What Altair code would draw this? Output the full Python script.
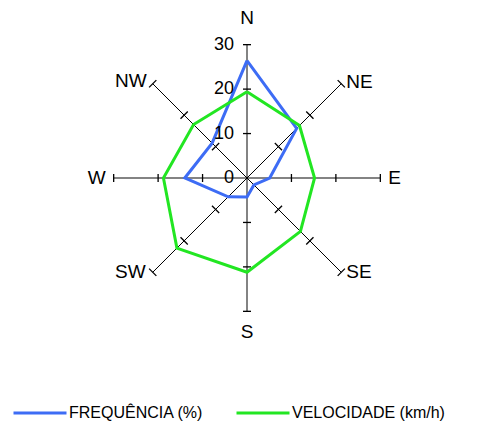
import altair as alt
import numpy as np
import pandas as pd

# ---- data ----
directions = ["N", "NE", "E", "SE", "S", "SW", "W", "NW"]
frequencia = [26.4, 15.8, 5.1, 2.2, 4.3, 6.0, 14.0, 11.1]
velocidade = [19.4, 16.7, 15.2, 17.0, 21.2, 22.3, 18.8, 17.0]
series_names = ["FREQUÊNCIA (%)", "VELOCIDADE (km/h)"]
series_colors = ["#3d6cf5", "#22e622"]
ring_values = [0, 10, 20, 30]
ring_labels = ["0", "10", "20", "30"]
tick_values = [10, 20, 30]
r_max = 30

# ---- derived tables ----
ang = np.deg2rad(90 - 45 * np.arange(len(directions)))
cosv, sinv = np.cos(ang), np.sin(ang)

rows = []
for s, vals in zip(series_names, [frequencia, velocidade]):
    for k in range(len(directions) + 1):
        i = k % len(directions)
        rows.append({"series": s, "order": k, "x": vals[i] * cosv[i], "y": vals[i] * sinv[i]})
lines_df = pd.DataFrame(rows)

spokes_df = pd.DataFrame({
    "dir": directions,
    "kind": ["card" if i % 2 == 0 else "diag" for i in range(len(directions))],
    "x": 0.0, "y": 0.0,
    "x2": r_max * cosv, "y2": r_max * sinv,
})

trows = []
for i, d in enumerate(directions):
    h = 0.9 if i % 2 == 0 else 1.15
    for r in tick_values:
        cx, cy = r * cosv[i], r * sinv[i]
        px, py = -sinv[i], cosv[i]
        trows.append({"x": cx - h * px, "y": cy - h * py, "x2": cx + h * px, "y2": cy + h * py})
ticks_df = pd.DataFrame(trows)

rings_df = pd.DataFrame({"x": 0.0, "y": ring_values, "label": ring_labels})
dirs_df = pd.DataFrame({"dir": directions, "x": r_max * cosv, "y": r_max * sinv})

# ---- scales ----
W, H = 464, 395
cx_px, cy_px = 239, 169
k = 133.33 / 30.0
xs = alt.Scale(domain=[-cx_px / k, (W - cx_px) / k], nice=False, zero=False)
ys = alt.Scale(domain=[-(H - cy_px) / k, cy_px / k], nice=False, zero=False)


def X(f="x"):
    return alt.X(f"{f}:Q", scale=xs, axis=None)


def Y(f="y"):
    return alt.Y(f"{f}:Q", scale=ys, axis=None)


FONT = "Liberation Sans"

spokes_card = alt.Chart(spokes_df).transform_filter("datum.kind == 'card'").mark_rule(
    color="#5a5a5a", strokeWidth=1.5).encode(x=X(), y=Y(), x2="x2:Q", y2="y2:Q")
spokes_diag = alt.Chart(spokes_df).transform_filter("datum.kind == 'diag'").mark_rule(
    color="black", strokeWidth=1).encode(x=X(), y=Y(), x2="x2:Q", y2="y2:Q")
ticks = alt.Chart(ticks_df).mark_rule(color="black", strokeWidth=1.3).encode(
    x=X(), y=Y(), x2="x2:Q", y2="y2:Q")

lines = alt.Chart(lines_df).mark_line(strokeWidth=3).encode(
    x=X(), y=Y(), order="order:Q",
    color=alt.Color("series:N", sort=series_names,
                    scale=alt.Scale(domain=series_names, range=series_colors),
                    legend=alt.Legend(title=None, orient="none", legendX=4, legendY=376,
                                      direction="horizontal", symbolType="stroke",
                                      symbolSize=2809, symbolStrokeWidth=3,
                                      labelFont=FONT, labelFontSize=16, labelColor="black",
                                      labelOffset=1, columnPadding=26, padding=0)),
)

ring_text = alt.Chart(rings_df).mark_text(
    align="right", baseline="middle", dx=-13, font=FONT, fontSize=18, color="black"
).encode(x=X(), y=Y(), text="label:N")


def dir_layer(names, **kw):
    cond = " || ".join(f"datum.dir == '{n}'" for n in names)
    return alt.Chart(dirs_df).transform_filter(cond).mark_text(
        baseline="middle", font=FONT, fontSize=19, color="black", **kw
    ).encode(x=X(), y=Y(), text="dir:N")


lab_n = dir_layer(["N"], align="center", dy=-27)
lab_s = dir_layer(["S"], align="center", dy=21)
lab_e = dir_layer(["E"], align="left", dx=8)
lab_w = dir_layer(["W"], align="right", dx=-8)
lab_ne = dir_layer(["NE"], align="left", dx=5, dy=-2)
lab_se = dir_layer(["SE"], align="left", dx=5)
lab_sw = dir_layer(["SW"], align="right", dx=-7)
lab_nw = dir_layer(["NW"], align="right", dx=-6, dy=-3)

chart = alt.layer(
    spokes_card, spokes_diag, ticks, lines, ring_text,
    lab_n, lab_s, lab_e, lab_w, lab_ne, lab_se, lab_sw, lab_nw,
).properties(width=W, height=H, padding=0).configure_view(stroke=None)

chart.save("out.html", embed_options={"renderer": "svg", "actions": False})
